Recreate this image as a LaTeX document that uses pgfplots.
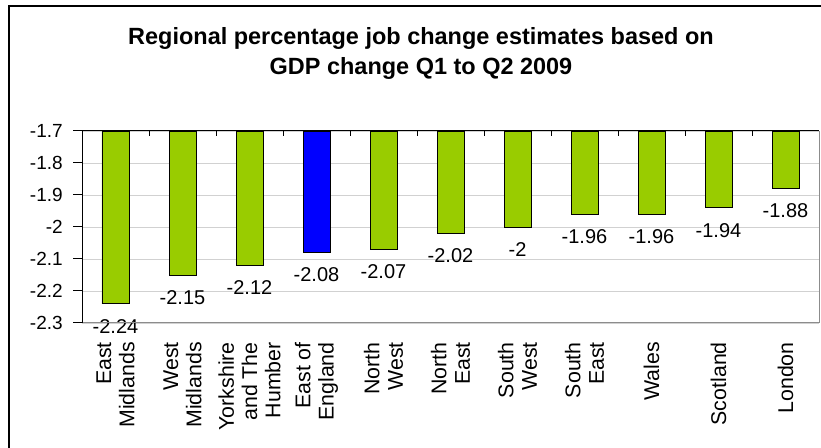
\documentclass[border=0pt]{standalone}
\usepackage{fontspec}
\setmainfont{Liberation Sans}
\usepackage{pgfplots}
\pgfplotsset{compat=1.18}
\definecolor{barGreen}{HTML}{99CC00}
\definecolor{barBlue}{HTML}{0000FF}
\begin{document}
\begin{tikzpicture}
\useasboundingbox (0,0) rectangle (615.75pt,336pt);
\draw[line width=1.2pt] (6.75pt,-5pt) -- (6.75pt,331.5pt) -- (630pt,331.5pt);
\node[font=\bfseries\fontsize{17.6}{20}\selectfont, anchor=base, inner sep=0pt] at (315.75pt,302.25pt) {Regional percentage job change estimates based on};
\node[font=\bfseries\fontsize{17.6}{20}\selectfont, anchor=base, inner sep=0pt] at (315.75pt,279.75pt) {GDP change Q1 to Q2 2009};
\begin{axis}[
  at={(61.5pt,93.75pt)}, anchor=south west,
  width=552.75pt, height=144pt, scale only axis,
  xmin=-0.5, xmax=10.5, ymin=-2.3, ymax=-1.7,
  axis line style={draw=none},
  major tick length=0pt,
  xtick={0,1,2,3,4,5,6,7,8,9,10},
  xticklabels={{East\\Midlands},{West\\Midlands},{Yorkshire\\and The\\Humber},{East of\\England},{North\\West},{North\\East},{South\\West},{South\\East},{Wales},{Scotland},{London}},
  xticklabel style={rotate=90, anchor=east, align=right, font=\fontsize{16}{17.5}\selectfont, inner xsep=14.25pt, inner ysep=0pt},
  ytick={-2.3,-2.2,-2.1,-2,-1.9,-1.8,-1.7},
  yticklabels={-2.3,-2.2,-2.1,-2,-1.9,-1.8,-1.7},
  yticklabel style={font=\fontsize{14.25}{16}\selectfont, anchor=east, inner sep=0pt, xshift=-14.25pt},
  ymajorgrids, grid style={draw=black!18},
  ybar,
  nodes near coords, point meta=explicit symbolic,
  every node near coord/.append style={font=\fontsize{15}{17}\selectfont, anchor=north, inner sep=0pt, yshift=-11.25pt},
]
\addplot[ybar, bar width=20.25pt, bar shift=0pt, fill=barGreen, draw=black, line width=0.6pt]
  coordinates {(0,-2.24) [-2.24] (1,-2.15) [-2.15] (2,-2.12) [-2.12] (4,-2.07) [-2.07] (5,-2.02) [-2.02] (6,-2) [-2] (7,-1.96) [-1.96] (8,-1.96) [-1.96] (9,-1.94) [-1.94] (10,-1.88) [-1.88]};
\addplot[ybar, bar width=20.25pt, bar shift=0pt, fill=barBlue, draw=black, line width=0.6pt]
  coordinates {(3,-2.08) [-2.08]};
\end{axis}
% plot-area frame: category axis on top and value axis on the left in black, other sides grey
\draw[black!45, line width=0.75pt] (614.25pt,237.75pt) -- (614.25pt,93.75pt) -- (61.5pt,93.75pt);
\draw[black, line width=0.75pt] (61.5pt,93.75pt) -- (61.5pt,237.75pt) -- (614.25pt,237.75pt);
\foreach \k in {1,...,10} \draw[black, line width=0.75pt] ({61.5pt+50.25pt*\k},237.75pt) -- ++(0,-3.75pt);
\foreach \k in {0,...,6} \draw[black, line width=0.75pt] (61.5pt,{93.75pt+24pt*\k}) -- ++(-6.75pt,0);
\end{tikzpicture}
\end{document}
